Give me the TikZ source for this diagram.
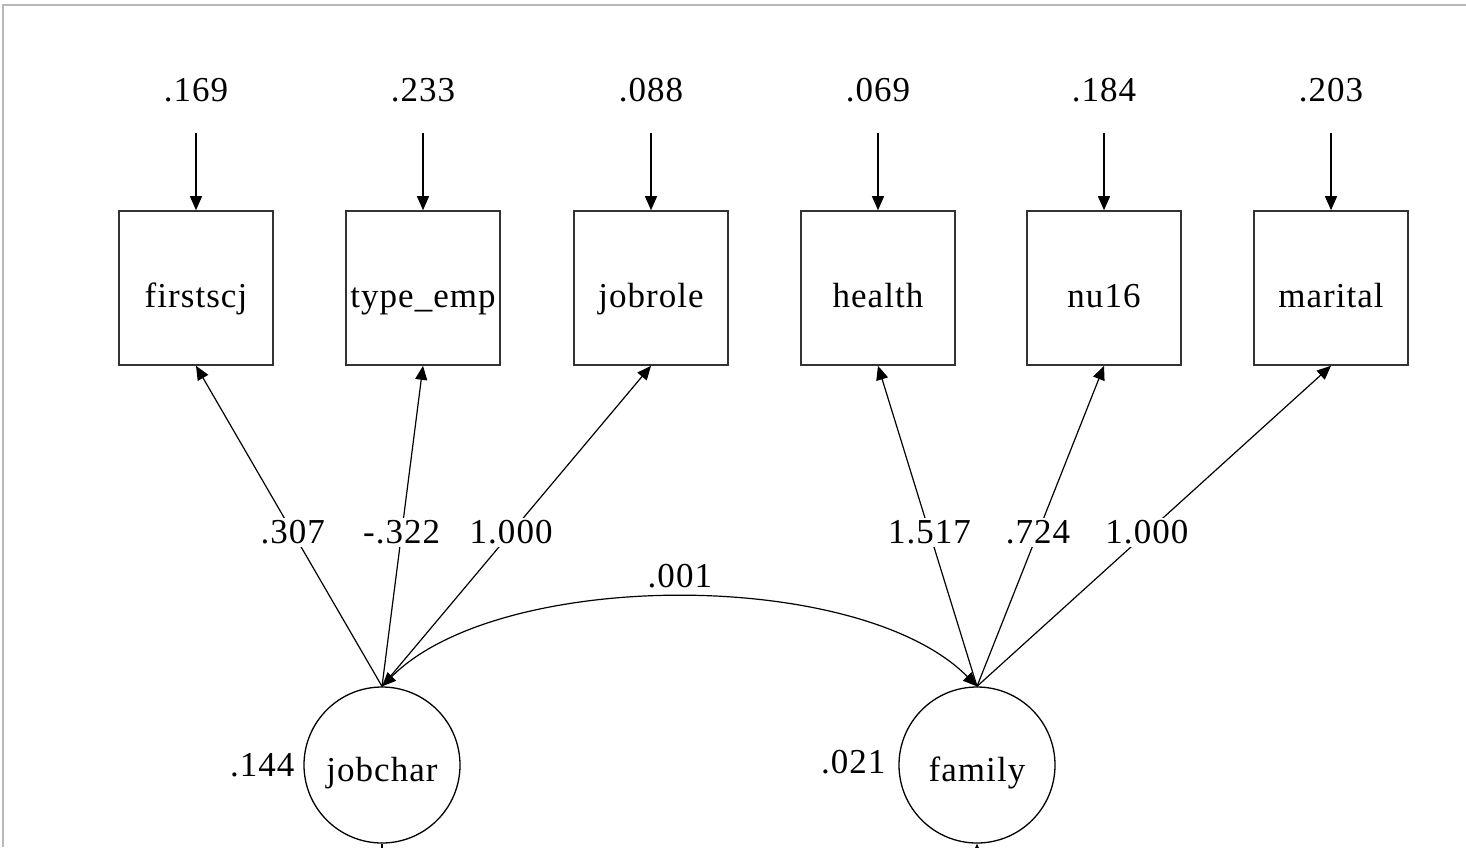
\documentclass[tikz,border=0pt]{standalone}
\usepackage{fontspec}
\setmainfont{Liberation Serif}[LetterSpace=3]
\usetikzlibrary{arrows.meta}
\newcommand{\lowtxt}[2]{\raisebox{-#1pt}[0pt][0pt]{#2}}
\begin{document}
\begin{tikzpicture}[x=1pt,y=-1pt,
  obs/.style={draw=black!80, line width=1.6pt, minimum width=154pt, minimum height=154pt, inner sep=0pt},
  lat/.style={draw, circle, line width=1.3pt, minimum size=156pt, inner sep=0pt},
  edge/.style={line width=1.2pt, -{Triangle[length=14pt,width=12pt]}},
  lbl/.style={fill=white, inner sep=3pt},
  font=\fontsize{35}{40}\selectfont]
\useasboundingbox (0,0) rectangle (1466,847);
\draw[gray!55, line width=1.5pt] (3,847) -- (3,5) -- (1466,5);

% observed variables
\node[obs] (b1) at (196,288) {\lowtxt{19}{firstscj}};
\node[obs] (b2) at (423,288) {\lowtxt{19}{type\_emp}};
\node[obs] (b3) at (651,288) {\lowtxt{19}{jobrole}};
\node[obs] (b4) at (878,288) {\lowtxt{19}{health}};
\node[obs] (b5) at (1104,288) {\lowtxt{19}{nu16}};
\node[obs] (b6) at (1331,288) {\lowtxt{19}{marital}};

% error variances
\node (e1) at (196,90) {.169};
\node (e2) at (423,90) {.233};
\node (e3) at (651,90) {.088};
\node (e4) at (878,90) {.069};
\node (e5) at (1104,90) {.184};
\node (e6) at (1331,90) {.203};
\foreach \i/\x in {1/196,2/423,3/651,4/878,5/1104,6/1331}{
  \coordinate (s\i) at (\x,133);
  \draw[edge] (s\i) -- (b\i.north);
}

% latent variables
\node[lat] (jc) at (382,765) {\lowtxt{16}{jobchar}};
\node[lat] (fam) at (977,765) {\lowtxt{16}{family}};
\node[anchor=east] (v1) at (298,765) {.144};
\node[anchor=east] (v2) at (889,762) {.021};

% loadings
\draw[edge] (jc.north) -- node[lbl, pos=0.48] {.307} (b1.south);
\draw[edge] (jc.north) -- node[lbl, pos=0.48] {-.322} (b2.south);
\draw[edge] (jc.north) -- node[lbl, pos=0.48] {1.000} (b3.south);
\draw[edge] (fam.north) -- node[lbl, pos=0.48] {1.517} (b4.south);
\draw[edge] (fam.north) -- node[lbl, pos=0.48] {.724} (b5.south);
\draw[edge] (fam.north) -- node[lbl, pos=0.48] {1.000} (b6.south);

% covariance
\draw[line width=1.2pt, {Triangle[length=14pt,width=12pt]}-{Triangle[length=14pt,width=12pt]}]
  (jc.north) .. controls (500,568) and (860,568) .. (fam.north)
  node[pos=0.5, above, inner sep=9pt] {.001};

% fragments cut off at the bottom
\draw[line width=1.2pt] (jc.south) -- ++(0,20);
\draw[edge] (fam.south) ++(0,40) -- (fam.south);
\end{tikzpicture}
\end{document}
